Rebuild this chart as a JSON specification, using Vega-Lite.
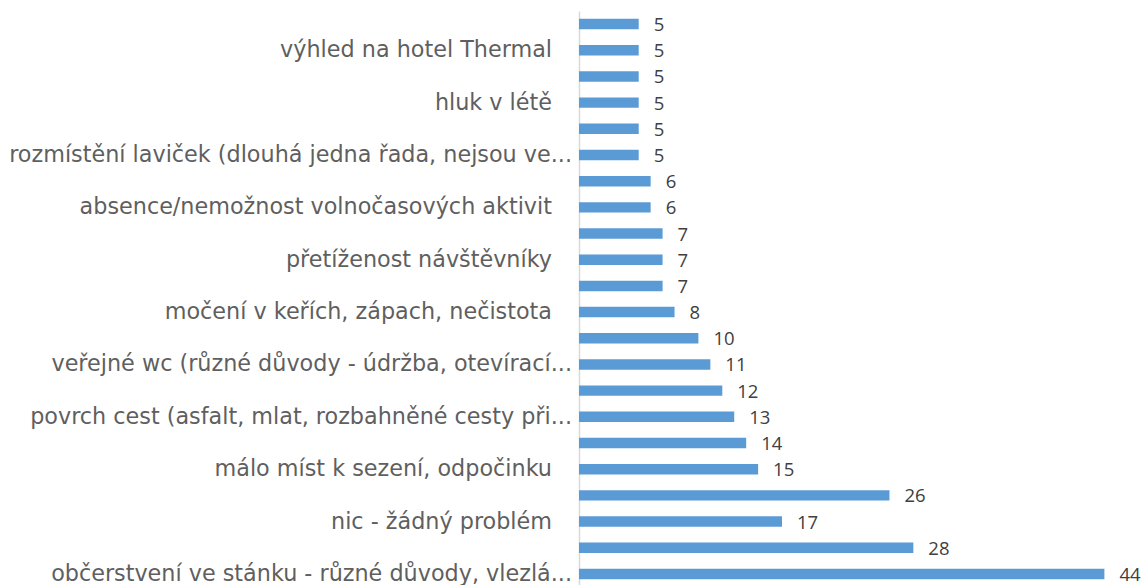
{
  "$schema": "https://vega.github.io/schema/vega-lite/v6.json",
  "autosize": "none",
  "width": 566,
  "height": 576,
  "padding": {"left": 579, "top": 11, "right": 0, "bottom": 0},
  "background": "white",
  "config": {"view": {"stroke": null}},
  "data": {
    "values": [
      {"poradi": 1, "kategorie": "", "pocet": 5},
      {"poradi": 2, "kategorie": "výhled na hotel Thermal", "pocet": 5},
      {"poradi": 3, "kategorie": "", "pocet": 5},
      {"poradi": 4, "kategorie": "hluk v létě", "pocet": 5},
      {"poradi": 5, "kategorie": "", "pocet": 5},
      {"poradi": 6, "kategorie": "rozmístění laviček (dlouhá jedna řada, nejsou ve...", "pocet": 5},
      {"poradi": 7, "kategorie": "", "pocet": 6},
      {"poradi": 8, "kategorie": "absence/nemožnost volnočasových aktivit", "pocet": 6},
      {"poradi": 9, "kategorie": "", "pocet": 7},
      {"poradi": 10, "kategorie": "přetíženost návštěvníky", "pocet": 7},
      {"poradi": 11, "kategorie": "", "pocet": 7},
      {"poradi": 12, "kategorie": "močení v keřích, zápach, nečistota", "pocet": 8},
      {"poradi": 13, "kategorie": "", "pocet": 10},
      {"poradi": 14, "kategorie": "veřejné wc (různé důvody - údržba, otevírací...", "pocet": 11},
      {"poradi": 15, "kategorie": "", "pocet": 12},
      {"poradi": 16, "kategorie": "povrch cest (asfalt, mlat, rozbahněné cesty při...", "pocet": 13},
      {"poradi": 17, "kategorie": "", "pocet": 14},
      {"poradi": 18, "kategorie": "málo míst k sezení, odpočinku", "pocet": 15},
      {"poradi": 19, "kategorie": "", "pocet": 26},
      {"poradi": 20, "kategorie": "nic - žádný problém", "pocet": 17},
      {"poradi": 21, "kategorie": "", "pocet": 28},
      {"poradi": 22, "kategorie": "občerstvení ve stánku - různé důvody, vlezlá...", "pocet": 44}
    ]
  },
  "encoding": {
    "y": {
      "field": "poradi",
      "type": "ordinal",
      "sort": "ascending",
      "scale": {"paddingInner": 0.6, "paddingOuter": 0.3},
      "axis": {
        "title": null,
        "labels": false,
        "ticks": false,
        "domain": true,
        "domainColor": "#d9d9d9",
        "domainWidth": 1.5,
        "grid": false
      }
    },
    "x": {
      "field": "pocet",
      "type": "quantitative",
      "scale": {"domain": [0, 47.4], "nice": false},
      "axis": null
    }
  },
  "layer": [
    {"mark": {"type": "bar", "color": "#5B9BD5"}},
    {
      "mark": {"type": "text", "align": "left", "baseline": "middle", "dx": 15, "dy": 1, "font": "Open Sans", "fontSize": 18.5, "color": "#404040"},
      "encoding": {"text": {"field": "pocet", "type": "quantitative"}}
    },
    {
      "transform": [{"filter": "datum.kategorie != '' && indexof(datum.kategorie, '...') < 0"}],
      "mark": {"type": "text", "align": "right", "baseline": "middle", "dx": -27, "dy": 0, "font": "DejaVu Sans", "fontSize": 22.3, "color": "#5f5f5f"},
      "encoding": {"x": {"datum": 0, "type": "quantitative"}, "text": {"field": "kategorie"}}
    },
    {
      "transform": [{"filter": "indexof(datum.kategorie, '...') >= 0"}],
      "mark": {"type": "text", "align": "right", "baseline": "middle", "dx": -7, "dy": 0, "font": "DejaVu Sans", "fontSize": 22.3, "color": "#5f5f5f"},
      "encoding": {"x": {"datum": 0, "type": "quantitative"}, "text": {"field": "kategorie"}}
    }
  ]
}
